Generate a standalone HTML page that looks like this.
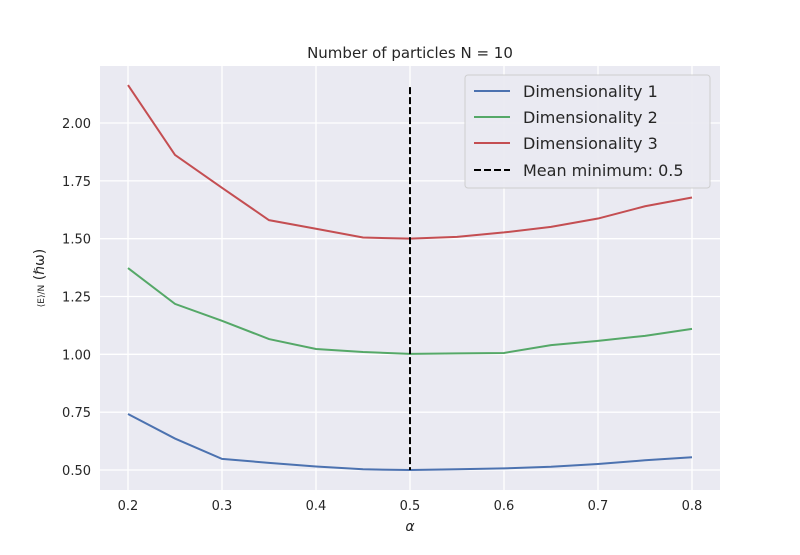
<!DOCTYPE html>
<html><head><meta charset="utf-8"><style>
body{margin:0;background:#fff;font-family:"Liberation Sans","DejaVu Sans",sans-serif}
</style></head><body>
<svg id="chart" width="800" height="550" xmlns="http://www.w3.org/2000/svg" font-family="DejaVu Sans, Liberation Sans, sans-serif">
<rect width="800" height="550" fill="#fff"/>
<rect x="100" y="66" width="620" height="424" fill="#eaeaf2"/>
<g id="grid"></g><g id="series"></g><g id="ticks"></g>
<text x="410" y="58" font-size="15" text-anchor="middle" fill="#262626">Number of particles N = 10</text>
<text x="410" y="531" font-size="14" font-style="italic" text-anchor="middle" fill="#262626">α</text>
<text transform="translate(44,278) rotate(-90)" font-size="14" text-anchor="middle" fill="#262626"><tspan font-size="9">⟨E⟩/N</tspan> (ℏω)</text>
<g>
<rect x="465" y="75" width="245" height="113" rx="3" fill="#eaeaf2" stroke="#ccc" opacity="0.9"/>
<line x1="474" y1="91" x2="510" y2="91" stroke="#4c72b0" stroke-width="2"/>
<text x="523" y="97" font-size="16" fill="#262626">Dimensionality 1</text>
<line x1="474" y1="117" x2="510" y2="117" stroke="#55a868" stroke-width="2"/>
<text x="523" y="123" font-size="16" fill="#262626">Dimensionality 2</text>
<line x1="474" y1="143" x2="510" y2="143" stroke="#c44e52" stroke-width="2"/>
<text x="523" y="149" font-size="16" fill="#262626">Dimensionality 3</text>
<line x1="474" y1="170" x2="510" y2="170" stroke="#000" stroke-width="2" stroke-dasharray="7,3"/>
<text x="523" y="176" font-size="16" fill="#262626">Mean minimum: 0.5</text>
</g>
</svg>
<script>
const alphas=[0.2,0.25,0.3,0.35,0.4,0.45,0.5,0.55,0.6,0.65,0.7,0.75,0.8];
const dim1=[0.742,0.636,0.548,0.531,0.515,0.503,0.5,0.503,0.507,0.514,0.526,0.542,0.555];
const dim2=[1.373,1.218,1.145,1.066,1.023,1.01,1.002,1.004,1.006,1.04,1.058,1.08,1.11];
const dim3=[2.164,1.862,1.72,1.58,1.543,1.505,1.5,1.508,1.527,1.551,1.587,1.64,1.678];
const meanMin=0.5;
const xTicks=[0.2,0.3,0.4,0.5,0.6,0.7,0.8];
const yTicks=[0.5,0.75,1.0,1.25,1.5,1.75,2.0];
const NS="http://www.w3.org/2000/svg";
const X=v=>128+(v-0.2)*940;
const Y=v=>470-(v-0.5)*231.33;
function mk(t,a,p){const e=document.createElementNS(NS,t);for(const k in a)e.setAttribute(k,a[k]);p.appendChild(e);return e;}
const g=document.getElementById('grid'),tk=document.getElementById('ticks'),s=document.getElementById('series');
xTicks.forEach(v=>{
 const l=mk('line',{x1:X(v),x2:X(v),y1:66,y2:490,stroke:'#fff','stroke-width':1.3},g);
 
 
 const t=mk('text',{x:X(v),y:510,'font-size':13,'text-anchor':'middle',fill:'#262626'},tk);
 t.textContent=v.toFixed(1);
 
 
});
yTicks.forEach(v=>{
 const l=mk('line',{x1:100,x2:720,y1:Y(v),y2:Y(v),stroke:'#fff','stroke-width':1.3},g);
 
 
 const t=mk('text',{x:91,y:Y(v)+5,'font-size':13,'text-anchor':'end',fill:'#262626'},tk);
 t.textContent=v.toFixed(2);
 
 
});
[[dim1,'#4c72b0','line-dim1'],[dim2,'#55a868','line-dim2'],[dim3,'#c44e52','line-dim3']].forEach(([d,c,n])=>{
 const p=mk('polyline',{points:d.map((v,i)=>X(alphas[i])+','+Y(v)).join(' '),fill:'none',stroke:c,'stroke-width':2},s);
 
 
});
const vl=mk('line',{x1:X(meanMin),x2:X(meanMin),y1:Y(Math.max(...dim3))+2,y2:Y(Math.min(...dim1)),stroke:'#000','stroke-width':2,'stroke-dasharray':'7,3'},s);


</script>
</body></html>
